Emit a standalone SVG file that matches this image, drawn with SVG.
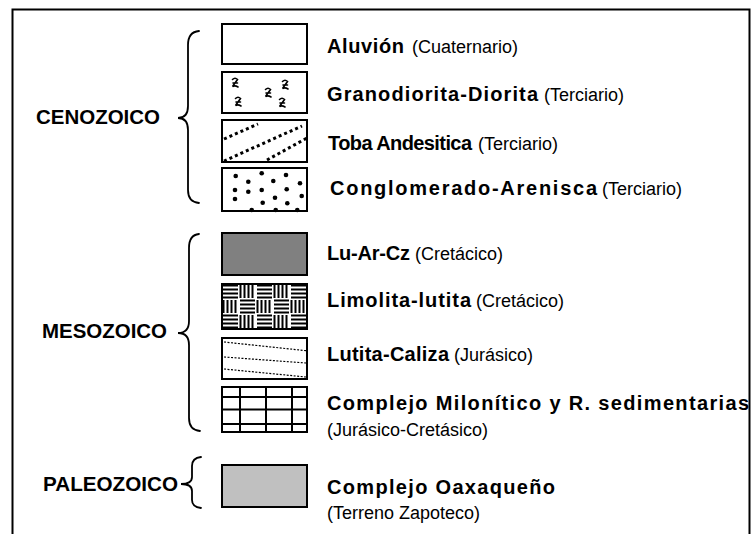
<svg xmlns="http://www.w3.org/2000/svg" width="752" height="534" viewBox="0 0 752 534">
<style>
.b{font-family:"Liberation Sans",Arial,sans-serif;font-weight:bold;font-size:20px;fill:#000}
.e{font-family:"Liberation Sans",Arial,sans-serif;font-weight:bold;font-size:20px;fill:#000}
.r{font-family:"Liberation Sans",Arial,sans-serif;font-size:18px;fill:#000}
.box{stroke:#000;stroke-width:2;fill:#fff}
.br{fill:none;stroke:#000;stroke-width:1.8;stroke-linecap:round}
.gs{fill:none;stroke:#000;stroke-width:1.6;stroke-linecap:round}
</style>
<defs>
<pattern id="weave" patternUnits="userSpaceOnUse" x="222" y="284" width="34" height="30">
<rect width="34" height="30" fill="#fff"/>
<g stroke="#000" stroke-width="2">
<path d="M1,1.5H16M1,5.5H16M1,9.5H16M1,13.5H16"/>
<path d="M18.5,1V14M22.5,1V14M26.5,1V14M30.5,1V14"/>
<path d="M1.5,16V29M5.5,16V29M9.5,16V29M13.5,16V29"/>
<path d="M18,16.5H33M18,20.5H33M18,24.5H33M18,28.5H33"/>
</g>
</pattern>
<g id="gsym"><path class="gs" d="M-2.5,-3.5 Q0,-6 2.5,-3.5 L-2.5,3.5 Q0,2 3,4 M-2,0 H2.5"/></g>
<clipPath id="c3"><rect x="222" y="121" width="85" height="41"/></clipPath>
<clipPath id="c7"><rect x="222" y="338" width="85" height="41"/></clipPath>
</defs>
<path d="M12.5,534V9.5H749.5V534" fill="none" stroke="#000" stroke-width="2"/>

<g id="braces">
<path class="br" d="M199,31 Q188,32 188,45 V106 Q188,118 178,118 Q188,118 188,130 V190 Q188,202 199,203"/>
<path class="br" d="M199,234 Q189,235 189,248 V321 Q189,333 178,333 Q189,333 189,345 V418 Q189,430 200,431"/>
<path class="br" d="M201,457 Q192,458 192,466 V477 Q192,484 181,484 Q192,484 192,491 V500 Q192,507 201,508"/>
</g>

<g id="eras">
<text class="e" x="36" y="124" textLength="124" lengthAdjust="spacingAndGlyphs">CENOZOICO</text>
<text class="e" x="42" y="338" textLength="125" lengthAdjust="spacingAndGlyphs">MESOZOICO</text>
<text class="e" x="43" y="491" textLength="135" lengthAdjust="spacingAndGlyphs">PALEOZOICO</text>
</g>

<g id="aluvion">
<rect class="box" x="222" y="24" width="85" height="40"/>
<text x="327" y="53"><tspan class="b" textLength="77">Aluvión</tspan><tspan class="r" x="412">(Cuaternario)</tspan></text>
</g>

<g id="granodiorita">
<rect class="box" x="222" y="72" width="85" height="41"/>
<use href="#gsym" x="235" y="83"/>
<use href="#gsym" x="238" y="102"/>
<use href="#gsym" x="268" y="93"/>
<use href="#gsym" x="285" y="85"/>
<use href="#gsym" x="282" y="103"/>
<text x="327" y="101"><tspan class="b" textLength="211">Granodiorita-Diorita</tspan><tspan class="r" x="544">(Terciario)</tspan></text>
</g>

<g id="toba">
<rect class="box" x="222" y="120" width="85" height="42"/>
<g clip-path="url(#c3)" stroke="#000" stroke-width="3" stroke-dasharray="3 3" fill="none">
<path d="M224,139 L258,124"/>
<path d="M224,161 L302,126"/>
<path d="M267,160 L307,138"/>
</g>
<text x="328" y="150"><tspan class="b" textLength="144">Toba Andesitica</tspan><tspan class="r" x="478">(Terciario)</tspan></text>
</g>

<g id="conglomerado">
<rect class="box" x="222" y="168" width="85" height="43"/>
<g fill="#000">
<circle cx="235.7" cy="176" r="2.3"/><circle cx="261.7" cy="173.3" r="2.3"/><circle cx="286" cy="175" r="2.3"/>
<circle cx="248.3" cy="181.7" r="2.3"/><circle cx="273.3" cy="181" r="2.3"/><circle cx="300" cy="183.3" r="2.3"/>
<circle cx="235" cy="190" r="2.3"/><circle cx="248.3" cy="191.7" r="2.3"/><circle cx="261.7" cy="190" r="2.3"/>
<circle cx="286.7" cy="189.3" r="2.3"/><circle cx="235" cy="199" r="2.3"/><circle cx="262.7" cy="202.7" r="2.3"/>
<circle cx="275" cy="197.7" r="2.3"/><circle cx="287.3" cy="203.3" r="2.3"/><circle cx="301.7" cy="196" r="2.3"/>
<circle cx="251.7" cy="210" r="2.3"/><circle cx="275.7" cy="210" r="2.3"/><circle cx="297.3" cy="210" r="2.3"/>
</g>
<text x="330" y="195"><tspan class="b" textLength="267">Conglomerado-Arenisca</tspan><tspan class="r" x="602">(Terciario)</tspan></text>
</g>

<g id="luarcz">
<rect class="box" x="222" y="233" width="85" height="42" style="fill:#808080"/>
<text x="327" y="260"><tspan class="b" textLength="83">Lu-Ar-Cz</tspan><tspan class="r" x="415">(Cretácico)</tspan></text>
</g>

<g id="limolita">
<rect class="box" x="222" y="284" width="85" height="45" style="fill:url(#weave)"/>
<text x="327" y="307"><tspan class="b" textLength="144">Limolita-lutita</tspan><tspan class="r" x="476">(Cretácico)</tspan></text>
</g>

<g id="lutita">
<rect class="box" x="222" y="338" width="85" height="41"/>
<g clip-path="url(#c7)" stroke="#000" stroke-width="1.2" stroke-dasharray="2 1.5" fill="none">
<path d="M224,342 L309,351"/>
<path d="M224,357 L306,363"/>
<path d="M224,369 L306,377"/>
</g>
<text x="327" y="361"><tspan class="b" textLength="122">Lutita-Caliza</tspan><tspan class="r" x="454">(Jurásico)</tspan></text>
</g>

<g id="milonitico">
<rect class="box" x="222" y="387" width="85" height="45"/>
<path d="M240,387V432M266,387V432M292,387V432M222,397H307M222,409.5H307M222,424H307" stroke="#000" stroke-width="2" fill="none"/>
<text class="b" x="327" y="410" textLength="422">Complejo Milonítico y R. sedimentarias</text>
<text class="r" x="327" y="436">(Jurásico-Cretásico)</text>
</g>

<g id="oaxaqueno">
<rect class="box" x="222" y="465" width="85" height="42" style="fill:#c0c0c0"/>
<text class="b" x="327" y="494" textLength="228">Complejo Oaxaqueño</text>
<text class="r" x="327" y="519">(Terreno Zapoteco)</text>
</g>
</svg>
